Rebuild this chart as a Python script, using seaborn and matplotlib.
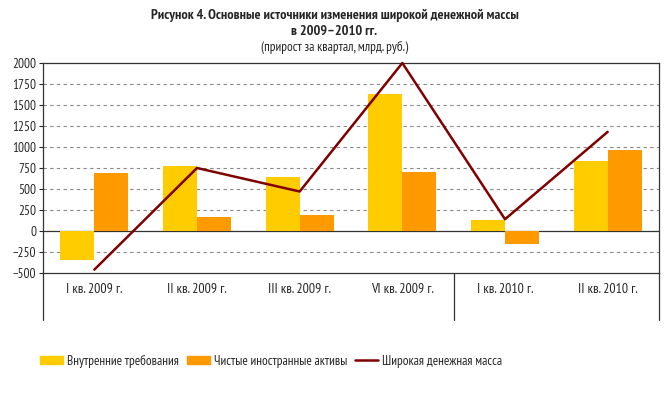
import seaborn as sns
import pandas as pd
import matplotlib.pyplot as plt
from matplotlib.patches import Patch
from matplotlib.lines import Line2D

# Quarterly growth, bn rub
quarters = ["I кв. 2009 г.", "II кв. 2009 г.", "III кв. 2009 г.",
            "VI кв. 2009 г.", "I кв. 2010 г.", "II кв. 2010 г."]
domestic = [-350, 770, 645, 1630, 130, 830]
foreign = [690, 165, 195, 700, -160, 960]
broad_money = [-460, 750, 470, 2000, 140, 1180]

names = ["Внутренние требования", "Чистые иностранные активы", "Широкая денежная масса"]
colors = ["#FFCC00", "#FF9900"]
line_color = "#800000"

data = pd.DataFrame({
    "quarter": quarters * 2,
    "value": domestic + foreign,
    "series": [names[0]] * 6 + [names[1]] * 6,
})

sns.set_style("white")
plt.rcParams["font.family"] = ["PT Sans Narrow", "DejaVu Sans"]

fig = plt.figure(figsize=(6.69, 3.97), dpi=100)
# axes box in pixels: x 43..659, y 63..273
ax = fig.add_axes([43 / 669, 1 - 273 / 397, 616 / 669, 210 / 397])

sns.barplot(data=data, x="quarter", y="value", hue="series", palette=colors,
            width=0.66, saturation=1, gap=0, linewidth=0, ax=ax, legend=False,
            zorder=3)
ax.plot(range(len(quarters)), broad_money, color=line_color, lw=1.8, zorder=4,
        clip_on=False)

ax.set_xlim(-0.5, 5.5)
ax.set_ylim(-500, 2000)
ax.set_yticks(range(-500, 2001, 250))
ax.tick_params(axis="y", labelsize=9.5, length=3, width=0.8, direction="out",
               left=True, pad=2)
ax.tick_params(axis="x", labelsize=10, length=0, pad=7)
ax.set_xlabel("")
ax.set_ylabel("")

# dashed grid, solid zero line
for v in range(-250, 2000, 250):
    if v == 0:
        ax.axhline(0, color="#333333", lw=0.9, zorder=2)
    else:
        ax.axhline(v, color="#888888", lw=0.8, ls=(0, (3, 3)), zorder=1)

for s in ax.spines.values():
    s.set_color("#333333")
    s.set_linewidth(0.9)

# category-axis box below the plot (group separators 2009 / 2010)
drop = (320 - 273) / 210
for xv in [-0.5, 3.5, 5.5]:
    ax.plot([xv, xv], [0, -drop], transform=ax.get_xaxis_transform(),
            color="#333333", lw=0.9, clip_on=False)

fig.text(0.5, 1 - 15 / 397,
         "Рисунок 4. Основные источники изменения широкой денежной массы",
         ha="center", va="center", fontsize=10.3, fontweight="bold")
fig.text(0.5, 1 - 31 / 397, "в 2009–2010 гг.",
         ha="center", va="center", fontsize=10.3, fontweight="bold")
fig.text(0.5, 1 - 47 / 397, "(прирост за квартал, млрд. руб.)",
         ha="center", va="center", fontsize=9.5)

handles = [Patch(color=colors[0]), Patch(color=colors[1]),
           Line2D([], [], color=line_color, lw=1.8)]
fig.legend(handles, names, loc="center", bbox_to_anchor=(271 / 669, 1 - 361 / 397),
           ncol=3, frameon=False, fontsize=9.5, handlelength=1.75, handleheight=0.55,
           handletextpad=0.3, columnspacing=0.6)

plt.savefig("out.png", dpi=100)
